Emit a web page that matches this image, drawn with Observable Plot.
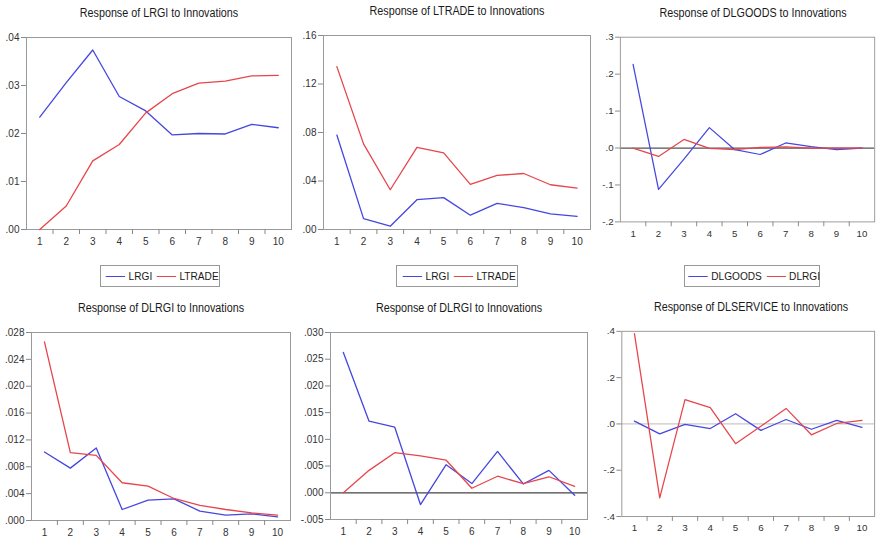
<!DOCTYPE html>
<html><head><meta charset="utf-8">
<script src="https://cdn.jsdelivr.net/npm/d3@7"></script>
<script src="https://cdn.jsdelivr.net/npm/@observablehq/plot@0.6"></script>
<style>
html,body{margin:0;padding:0;background:#fff;overflow:hidden;width:880px;height:543px;}
#root{position:relative;width:880px;height:543px;overflow:hidden;font-family:"Liberation Sans",Arial,sans-serif;}
.title{position:absolute;font-size:12.5px;color:#1a1a1a;white-space:nowrap;transform:translate(-50%,-50%) scaleX(0.86);}
.legend{position:absolute;border:1px solid #999;height:22px;box-sizing:border-box;}
.legend .inner{position:absolute;left:50%;top:50%;transform:translate(-50%,-50%) scaleX(0.88);display:flex;align-items:center;white-space:nowrap;font-size:11.5px;color:#1a1a1a;}
.legend .sw{display:inline-block;flex-shrink:0;width:22px;height:0;border-top:1.4px solid;margin:0 4px 0 5px;}
.panel{position:absolute;}
</style></head>
<body><div id="root"></div>
<script>
// ----- data -----
const periods = [1,2,3,4,5,6,7,8,9,10];
const xTickLabels = [1,2,3,4,5,6,7,8,9,10];
const minorTicks = [1.5,2.5,3.5,4.5,5.5,6.5,7.5,8.5,9.5];

const titles = [
  "Response of LRGI to Innovations",
  "Response of LTRADE to Innovations",
  "Response of DLGOODS to Innovations",
  "Response of DLRGI to Innovations",
  "Response of DLRGI to Innovations",
  "Response of DLSERVICE to Innovations"
];

// Panel 1: Response of LRGI
const p1_LRGI   = [0.0234,0.0306,0.0374,0.0277,0.0247,0.0197,0.0200,0.0199,0.0219,0.0212];
const p1_LTRADE = [0.0000,0.0049,0.0143,0.0177,0.0243,0.0283,0.0305,0.0309,0.0320,0.0321];
// Panel 2: Response of LTRADE
const p2_LRGI   = [0.0779,0.0090,0.0027,0.0246,0.0263,0.0118,0.0216,0.0181,0.0129,0.0109];
const p2_LTRADE = [0.1343,0.0706,0.0328,0.0678,0.0632,0.0372,0.0446,0.0462,0.0369,0.0342];
// Panel 3: Response of DLGOODS
const p3_DLGOODS = [0.2265,-0.1118,-0.030,0.0552,-0.0045,-0.0175,0.0137,0.0040,-0.0040,0.0000];
const p3_DLRGI   = [0.0000,-0.0227,0.0232,-0.0010,-0.0045,0.0015,0.0030,0.0000,0.0000,0.0000];
// Panel 4: Response of DLRGI (blue / red)
const p4_blue = [0.0102,0.0078,0.0108,0.00164,0.00303,0.00323,0.0014,0.0008,0.0010,0.00055];
const p4_red  = [0.0266,0.0101,0.0097,0.00562,0.00512,0.00328,0.00224,0.00164,0.00114,0.0008];
// Panel 5: Response of DLRGI (blue / red)
const p5_blue = [0.02627,0.0134,0.01228,-0.0022,0.00526,0.00172,0.00774,0.00165,0.0042,-0.00046];
const p5_red  = [0.0000,0.0042,0.0075,0.0069,0.0061,0.00085,0.0031,0.0017,0.0030,0.0012];
// Panel 6: Response of DLSERVICE (blue / red)
const p6_blue = [0.012,-0.043,-0.002,-0.020,0.044,-0.028,0.019,-0.023,0.015,-0.015];
const p6_red  = [0.390,-0.3195,0.105,0.070,-0.0853,-0.010,0.067,-0.047,0.002,0.015];

const yTicks1 = [0,0.01,0.02,0.03,0.04];
const yTicks2 = [0,0.04,0.08,0.12,0.16];
const yTicks3 = [-0.2,-0.1,0,0.1,0.2,0.3];
const yTicks4 = [0,0.004,0.008,0.012,0.016,0.020,0.024,0.028];
const yTicks5 = [-0.005,0,0.005,0.010,0.015,0.020,0.025,0.030];
const yTicks6 = [-0.4,-0.2,0,0.2,0.4];

const legend1 = ["LRGI","LTRADE"];
const legend2 = ["LRGI","LTRADE"];
const legend3 = ["DLGOODS","DLRGI"];

const BLUE = "#4646e0";
const RED = "#e6464b";

// ----- layout -----
const panels = [
  {title:titles[0], frame:[26,291,37,229], blue:p1_LRGI, red:p1_LTRADE, ticks:yTicks1, dec:2, domain:[0,0.04], zero:null, legend:legend1, legBox:[100,220]},
  {title:titles[1], frame:[323,590,35,229], blue:p2_LRGI, red:p2_LTRADE, ticks:yTicks2, dec:2, domain:[0,0.16], zero:null, legend:legend2, legBox:[396,518]},
  {title:titles[2], frame:[621,884,37,228], blue:p3_DLGOODS, red:p3_DLRGI, ticks:yTicks3, dec:1, domain:[-0.2,0.3], zero:"#555", legend:legend3, legBox:[684,820]},
  {title:titles[3], frame:[31,290,332,520], blue:p4_blue, red:p4_red, ticks:yTicks4, dec:3, domain:[0,0.028], zero:null},
  {title:titles[4], frame:[330,587,332,519], blue:p5_blue, red:p5_red, ticks:yTicks5, dec:3, domain:[-0.005,0.030], zero:"#444"},
  {title:titles[5], frame:[622,880,331,520], blue:p6_blue, red:p6_red, ticks:yTicks6, dec:1, domain:[-0.4,0.4], zero:"#c8c8c8"}
];

const fmt = dec => d => d.toFixed(dec).replace(/^(-?)0\./, "$1.");
const root = document.getElementById("root");

const ML = 34, MR = 6, MT = 8, MB = 24;
panels.forEach(p => {
  const [x0,x1,y0,y1] = p.frame;
  const blueData = periods.map((t,i) => ({t, v: p.blue[i]}));
  const redData = periods.map((t,i) => ({t, v: p.red[i]}));
  const marks = [];
  if (p.zero) marks.push(Plot.ruleY([0], {stroke: p.zero, strokeWidth: 1.3}));
  marks.push(
    Plot.frame({stroke: "#9a9a9a", strokeWidth: 1}),
    Plot.axisY({ticks: p.ticks, tickFormat: fmt(p.dec), tickSize: 5, tickPadding: 2, label: null, stroke: "#888", fill: "#333"}),
    Plot.axisX({ticks: xTickLabels, tickSize: 0, tickPadding: 8, label: null, fill: "#333"}),
    Plot.axisX({ticks: minorTicks, tickSize: 5, text: null, label: null, stroke: "#888"}),
    Plot.lineY(blueData, {x: "t", y: "v", stroke: BLUE, strokeWidth: 1.3}),
    Plot.lineY(redData, {x: "t", y: "v", stroke: RED, strokeWidth: 1.3})
  );
  const chart = Plot.plot({
    width: x1 - x0 + ML + MR,
    height: y1 - y0 + MT + MB,
    marginLeft: ML, marginRight: MR, marginTop: MT, marginBottom: MB,
    x: {domain: [0.5, 10.5]},
    y: {domain: p.domain},
    style: {fontFamily: '"Liberation Sans",Arial,sans-serif', fontSize: "10px", background: "transparent", overflow: "visible"},
    marks
  });
  const wrap = document.createElement("div");
  wrap.className = "panel";
  wrap.style.left = (x0 - ML) + "px";
  wrap.style.top = (y0 - MT) + "px";
  wrap.appendChild(chart);
  root.appendChild(wrap);

  const t = document.createElement("div");
  t.className = "title";
  t.textContent = p.title;
  t.style.left = ((x0 + x1) / 2) + "px";
  t.style.top = (y0 - 24) + "px";
  root.appendChild(t);

  if (p.legend) {
    const lg = document.createElement("div");
    lg.className = "legend";
    lg.style.left = p.legBox[0] + "px";
    lg.style.top = "265px";
    lg.style.width = (p.legBox[1] - p.legBox[0]) + "px";
    const inner = document.createElement("div");
    inner.className = "inner";
    [[BLUE, p.legend[0]], [RED, p.legend[1]]].forEach(([c, name]) => {
      const sw = document.createElement("span"); sw.className = "sw"; sw.style.borderColor = c;
      const lb = document.createElement("span"); lb.textContent = name;
      inner.appendChild(sw); inner.appendChild(lb);
    });
    lg.appendChild(inner);
    root.appendChild(lg);
  }
});
</script>
</body></html>
